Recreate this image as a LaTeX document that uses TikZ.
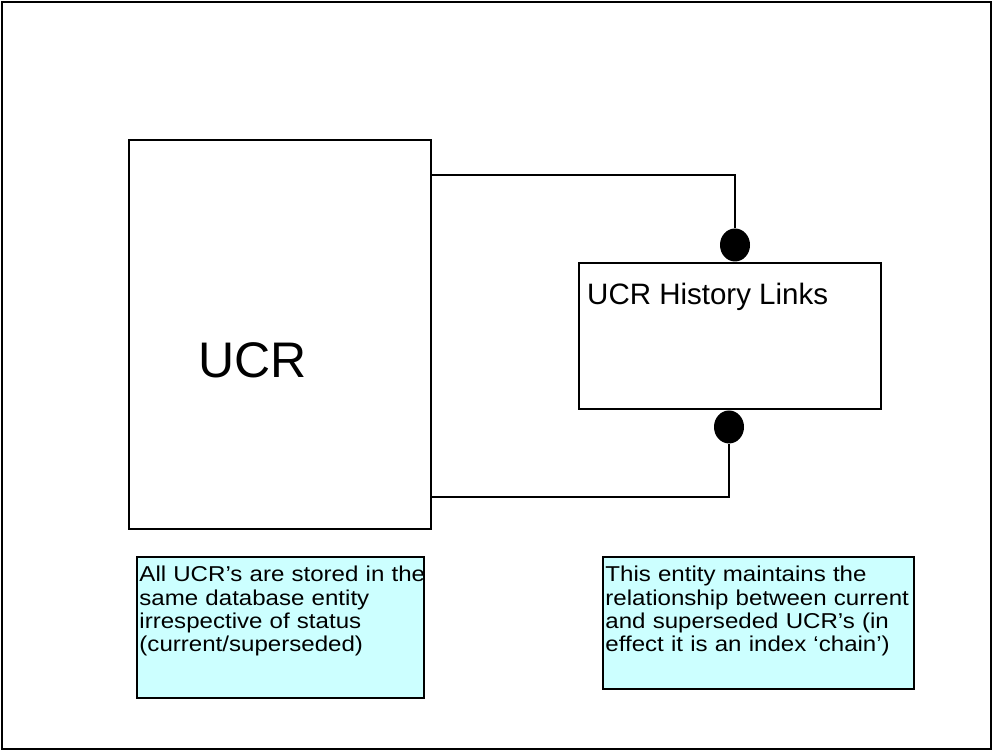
\documentclass[tikz,border=0pt]{standalone}
\usepackage{fontspec}
\setmainfont{Liberation Sans}
\newfontfamily\notefont[FakeStretch=1.12]{Liberation Sans}
\usetikzlibrary{shapes.geometric,positioning}
\definecolor{notecyan}{RGB}{204,255,255}
\setlength{\lineskiplimit}{-20pt}

\begin{document}
\begin{tikzpicture}[x=1pt, y=1pt,
        entity/.style = {draw, line width=1.6pt, inner sep=0pt},
          note/.style = {draw, line width=1.5pt, fill=notecyan, inner sep=0pt},
      notetext/.style = {anchor=north west, align=left, inner xsep=3pt, inner ysep=9.75pt,
                         font=\notefont\fontsize{21.5}{23.3}\selectfont},
        linkdot/.style = {ellipse, fill=black, minimum width=30pt, minimum height=33pt, inner sep=0pt},
                            ]
    \useasboundingbox (0,0) rectangle (994,751);
    \draw[line width=1.6pt] (2,2) rectangle (991,749);
    % entities
    \node (ucr)  [entity, minimum width=302pt, minimum height=389pt] at (280,416.5) {};
    \node (ucrtxt) [anchor=base west, inner sep=0pt, font=\fontsize{50}{60}\selectfont] at (198,373) {UCR};
    \node (hist) [entity, minimum width=302pt, minimum height=146pt] at (730,415) {};
    \node (histtxt) [anchor=base west, inner sep=0pt, font=\fontsize{29.5}{35}\selectfont] at (587,446) {UCR History Links};
    % link ends
    \node (dtop) [linkdot] at (735,506) {};
    \node (dbot) [linkdot] at (729,324) {};
    \coordinate (jtop) at (0,576);
    \coordinate (jbot) at (0,254);
    \draw[line width=1.4pt] (ucr.east |- jtop) -| (dtop);
    \draw[line width=1.4pt] (ucr.east |- jbot) -| (dbot);
    % notes
    \node (notel) [note, minimum width=287pt, minimum height=141pt] at (280.5,123.5) {};
    \node (noteltxt) [notetext, text width=300pt] at (notel.north west)
        {All UCR’s are stored in the\\ same database entity\\ irrespective of status\\ (current/superseded)};
    \node (noter) [note, minimum width=311pt, minimum height=132pt] at (758.5,128) {};
    \node (notertxt) [notetext, text width=320pt] at (noter.north west)
        {This entity maintains the\\ relationship between current\\ and superseded UCR’s (in\\ effect it is an index ‘chain’)};
\end{tikzpicture}
\end{document}
